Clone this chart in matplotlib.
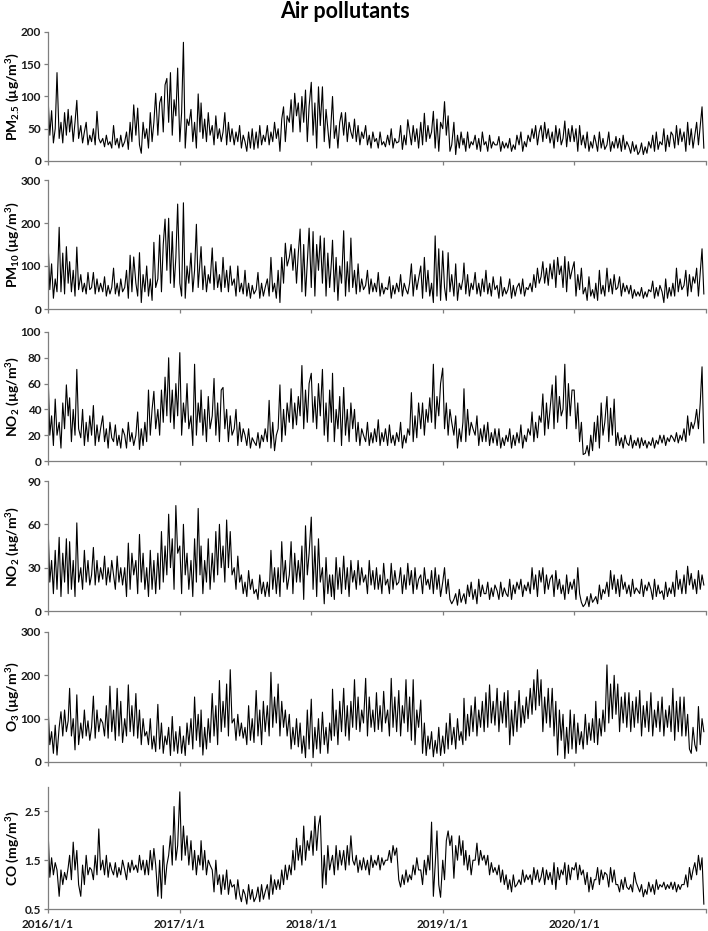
import numpy as np
import matplotlib
matplotlib.use("Agg")
import matplotlib.pyplot as plt

plt.rcParams['font.family'] = ['Lato', 'DejaVu Sans']
plt.rcParams['font.weight'] = 'bold'
plt.rcParams['mathtext.fontset'] = 'custom'
plt.rcParams['mathtext.rm'] = 'Lato:bold'
plt.rcParams['mathtext.it'] = 'Lato:bold'
plt.rcParams['mathtext.bf'] = 'Lato:bold'

# values, 6 per month (days 1, 6, 11, 16, 21, 26), 2016-2020
pm25 = [
    100, 40, 78, 28, 50, 137, 35, 60, 28, 75, 40, 80, 45, 70, 30, 60, 94, 35, 55, 28, 45, 60, 25, 40,
    30, 50, 25, 77, 35, 28, 35, 22, 40, 25, 30, 20, 55, 25, 35, 20, 40, 22, 30, 45, 18, 60, 30, 87,
    40, 82, 25, 12, 60, 35, 50, 20, 75, 30, 60, 105, 40, 90, 100, 45, 118, 128, 60, 137, 40, 95, 70, 144,
    30, 75, 184, 20, 65, 55, 80, 30, 60, 20, 104, 45, 90, 35, 65, 30, 75, 40, 55, 25, 70, 35, 50, 30,
    45, 75, 25, 60, 30, 50, 25, 45, 30, 55, 20, 40, 30, 15, 45, 20, 50, 18, 45, 20, 55, 25, 40, 30,
    55, 25, 45, 30, 60, 35, 50, 15, 65, 84, 30, 70, 60, 95, 45, 105, 70, 90, 45, 100, 60, 110, 30, 85,
    122, 40, 90, 20, 115, 55, 115, 30, 80, 50, 20, 70, 100, 35, 55, 20, 60, 75, 40, 75, 30, 60, 45, 35,
    65, 30, 55, 25, 45, 35, 55, 25, 40, 20, 45, 30, 35, 20, 45, 25, 30, 22, 40, 25, 50, 20, 35, 28,
    30, 55, 18, 40, 25, 64, 45, 25, 55, 30, 50, 20, 60, 25, 74, 30, 55, 35, 45, 77, 20, 65, 15, 60,
    50, 92, 40, 70, 15, 25, 60, 10, 40, 20, 45, 25, 35, 15, 45, 20, 30, 25, 40, 18, 35, 15, 45, 25,
    30, 15, 40, 20, 30, 25, 25, 38, 15, 30, 20, 28, 20, 35, 15, 25, 18, 40, 25, 45, 15, 30, 22, 40,
    30, 50, 35, 55, 25, 45, 55, 30, 60, 35, 50, 28, 45, 20, 55, 30, 50, 25, 35, 62, 22, 50, 30, 55,
    30, 50, 15, 55, 25, 40, 20, 45, 15, 30, 20, 40, 30, 15, 45, 20, 35, 18, 25, 45, 15, 30, 20, 38,
    20, 35, 15, 40, 18, 30, 22, 12, 30, 15, 25, 10, 15, 28, 10, 22, 12, 30, 20, 40, 15, 45, 18, 30,
    25, 50, 15, 40, 22, 45, 40, 20, 55, 25, 50, 30, 45, 15, 60, 25, 50, 20, 40, 60, 25, 55, 84, 20,
]
pm10 = [
    160, 45, 105, 25, 70, 40, 190, 40, 130, 35, 145, 60, 110, 40, 90, 30, 144, 45, 80, 40, 60, 35, 85, 45,
    50, 85, 35, 70, 40, 60, 40, 75, 30, 55, 35, 50, 95, 35, 60, 30, 70, 40, 50, 90, 25, 125, 40, 121,
    60, 30, 131, 15, 80, 40, 100, 30, 70, 20, 155, 50, 70, 172, 40, 150, 209, 90, 211, 60, 180, 50, 120, 244,
    60, 30, 247, 25, 100, 60, 130, 40, 90, 197, 50, 110, 145, 45, 100, 40, 80, 60, 142, 45, 110, 50, 80, 40,
    120, 50, 90, 40, 100, 55, 70, 30, 100, 40, 60, 35, 90, 30, 60, 25, 55, 35, 45, 85, 25, 60, 30, 50,
    70, 30, 120, 40, 60, 25, 90, 15, 120, 60, 153, 100, 120, 150, 90, 140, 60, 130, 186, 40, 150, 30, 110, 188,
    50, 180, 30, 150, 90, 170, 60, 165, 30, 130, 50, 110, 160, 40, 120, 20, 100, 60, 182, 30, 110, 40, 165, 50,
    90, 35, 105, 40, 70, 45, 55, 90, 35, 70, 40, 60, 40, 85, 30, 60, 35, 50, 45, 75, 25, 55, 35, 60,
    40, 80, 30, 60, 45, 35, 60, 105, 30, 80, 45, 70, 100, 25, 120, 40, 90, 30, 60, 15, 170, 30, 140, 20,
    135, 50, 20, 131, 40, 80, 30, 105, 20, 60, 45, 70, 107, 35, 80, 30, 60, 45, 85, 35, 60, 30, 70, 40,
    90, 35, 60, 30, 75, 45, 55, 25, 75, 30, 50, 35, 45, 70, 25, 55, 30, 50, 60, 35, 70, 30, 50, 45,
    60, 40, 80, 50, 95, 60, 75, 110, 60, 95, 55, 105, 70, 114, 50, 120, 80, 100, 50, 122, 40, 110, 70, 90,
    110, 30, 80, 45, 95, 35, 50, 20, 75, 30, 45, 25, 60, 20, 90, 35, 55, 30, 95, 40, 70, 35, 80, 45,
    50, 75, 30, 60, 40, 55, 35, 55, 25, 45, 30, 40, 30, 50, 25, 40, 28, 45, 40, 65, 25, 50, 30, 55,
    40, 15, 70, 25, 50, 30, 60, 30, 95, 40, 70, 45, 55, 90, 30, 80, 40, 75, 60, 95, 30, 85, 140, 35,
]
no2 = [
    70, 20, 35, 12, 48, 20, 30, 10, 45, 25, 59, 35, 49, 15, 40, 20, 71, 25, 18, 40, 12, 30, 15, 35,
    20, 43, 12, 28, 15, 25, 35, 15, 25, 10, 30, 18, 15, 28, 12, 20, 10, 25, 20, 10, 30, 15, 22, 12,
    20, 38, 9, 25, 12, 30, 15, 55, 20, 40, 54, 25, 40, 20, 55, 30, 65, 35, 80, 30, 55, 25, 60, 35,
    84, 20, 45, 30, 60, 25, 35, 12, 75, 20, 45, 30, 55, 20, 40, 15, 50, 25, 35, 64, 20, 45, 15, 55,
    57, 25, 40, 15, 35, 20, 25, 40, 12, 30, 15, 25, 20, 12, 25, 10, 18, 15, 12, 22, 10, 20, 15, 25,
    15, 47, 10, 30, 8, 20, 25, 59, 15, 40, 20, 45, 30, 56, 25, 45, 28, 50, 35, 74, 25, 55, 30, 60,
    68, 30, 50, 25, 60, 35, 71, 20, 45, 15, 55, 30, 68, 15, 40, 25, 50, 12, 57, 20, 40, 15, 45, 25,
    40, 15, 30, 12, 25, 20, 15, 30, 12, 22, 14, 25, 15, 32, 12, 22, 15, 25, 12, 28, 14, 20, 12, 22,
    15, 30, 10, 20, 14, 25, 20, 53, 15, 35, 18, 45, 25, 45, 20, 40, 30, 49, 30, 75, 25, 50, 35, 60,
    72, 25, 45, 20, 40, 30, 20, 35, 10, 25, 15, 30, 56, 15, 40, 20, 30, 25, 20, 35, 12, 25, 15, 28,
    15, 30, 12, 22, 14, 25, 12, 25, 10, 18, 12, 20, 15, 25, 10, 20, 12, 22, 14, 28, 10, 20, 15, 25,
    20, 38, 15, 30, 18, 35, 30, 52, 20, 45, 25, 40, 59, 25, 66, 30, 50, 35, 40, 75, 25, 60, 35, 55,
    55, 25, 45, 15, 30, 5, 6, 12, 4, 20, 8, 30, 15, 35, 10, 45, 20, 30, 50, 15, 41, 20, 48, 12,
    22, 12, 18, 10, 20, 14, 12, 20, 10, 16, 12, 18, 10, 18, 12, 16, 10, 15, 12, 18, 10, 16, 13, 20,
    14, 20, 12, 18, 15, 20, 18, 15, 22, 14, 20, 16, 25, 15, 35, 20, 30, 25, 30, 40, 25, 45, 73, 14,
]
no2_b = [
    60, 20, 35, 12, 42, 15, 51, 10, 40, 20, 50, 12, 48, 15, 35, 10, 61, 20, 30, 15, 42, 20, 35, 18,
    25, 44, 18, 35, 20, 30, 22, 38, 18, 30, 20, 35, 25, 15, 38, 20, 30, 18, 30, 10, 47, 15, 40, 25,
    35, 12, 53, 20, 40, 15, 30, 10, 42, 15, 35, 12, 40, 15, 55, 20, 45, 25, 67, 30, 50, 15, 73, 40,
    45, 12, 60, 25, 40, 15, 35, 10, 50, 20, 71, 25, 45, 12, 35, 20, 50, 15, 40, 20, 55, 25, 60, 30,
    45, 20, 63, 30, 55, 25, 30, 15, 38, 20, 25, 12, 20, 10, 28, 15, 22, 12, 15, 8, 25, 12, 20, 10,
    20, 10, 42, 15, 30, 12, 30, 10, 48, 20, 35, 15, 25, 48, 12, 40, 20, 35, 20, 45, 8, 59, 25, 40,
    65, 15, 45, 10, 50, 20, 30, 5, 37, 12, 25, 10, 25, 8, 37, 15, 30, 12, 38, 15, 30, 10, 35, 20,
    28, 15, 35, 18, 30, 20, 25, 12, 35, 18, 28, 15, 30, 15, 25, 12, 33, 18, 22, 12, 33, 15, 28, 18,
    20, 30, 12, 25, 15, 33, 18, 28, 12, 30, 15, 22, 25, 12, 30, 18, 22, 15, 28, 12, 30, 15, 25, 10,
    20, 30, 12, 22, 8, 5, 8, 12, 4, 15, 6, 10, 12, 5, 18, 10, 20, 8, 15, 5, 22, 10, 18, 12,
    12, 20, 8, 16, 10, 18, 14, 8, 20, 10, 16, 12, 10, 22, 8, 18, 12, 20, 15, 22, 10, 18, 14, 20,
    12, 30, 15, 25, 10, 28, 20, 30, 12, 25, 15, 22, 25, 10, 28, 15, 22, 12, 18, 8, 25, 12, 20, 15,
    22, 8, 30, 12, 6, 3, 5, 10, 3, 12, 6, 8, 10, 5, 18, 8, 15, 12, 20, 10, 28, 15, 25, 12,
    22, 10, 25, 15, 20, 12, 18, 10, 22, 12, 16, 14, 12, 22, 10, 18, 14, 20, 15, 8, 22, 10, 18, 12,
    14, 8, 20, 10, 16, 12, 20, 10, 28, 15, 22, 12, 25, 12, 31, 18, 26, 15, 22, 12, 28, 15, 25, 18,
]
o3 = [
    130, 40, 70, 20, 85, 16, 80, 116, 60, 120, 70, 95, 170, 60, 100, 28, 155, 40, 90, 55, 120, 60, 95, 50,
    80, 152, 55, 120, 70, 100, 90, 60, 130, 55, 175, 70, 120, 50, 170, 60, 140, 45, 100, 60, 178, 70, 130, 60,
    158, 55, 120, 40, 100, 60, 70, 40, 100, 30, 60, 24, 133, 30, 90, 20, 60, 40, 80, 15, 105, 25, 70, 20,
    82, 20, 60, 15, 90, 40, 100, 30, 150, 50, 110, 35, 120, 16, 80, 30, 100, 45, 158, 60, 130, 40, 188, 70,
    140, 80, 180, 60, 213, 90, 100, 50, 110, 60, 90, 55, 80, 40, 130, 50, 100, 45, 165, 60, 120, 40, 140, 70,
    130, 60, 207, 80, 150, 90, 180, 60, 140, 80, 120, 60, 110, 30, 80, 40, 100, 35, 90, 20, 60, 10, 120, 30,
    145, 10, 80, 30, 100, 20, 115, 40, 80, 20, 90, 50, 168, 60, 120, 40, 140, 70, 170, 60, 130, 50, 140, 80,
    190, 75, 150, 70, 120, 90, 193, 60, 150, 80, 120, 70, 160, 75, 130, 70, 163, 90, 120, 60, 193, 80, 150, 70,
    165, 60, 130, 90, 190, 70, 150, 50, 190, 40, 120, 80, 143, 20, 90, 15, 60, 30, 70, 12, 50, 20, 80, 15,
    60, 20, 90, 30, 112, 40, 80, 30, 100, 50, 70, 40, 147, 50, 110, 60, 130, 70, 150, 60, 120, 80, 140, 70,
    160, 80, 178, 90, 140, 85, 170, 70, 140, 90, 160, 80, 165, 40, 120, 60, 140, 70, 165, 80, 130, 90, 150, 100,
    170, 110, 190, 120, 213, 130, 190, 70, 150, 90, 170, 80, 170, 60, 140, 16, 120, 50, 110, 8, 80, 20, 120, 30,
    110, 20, 90, 40, 70, 30, 110, 40, 90, 50, 100, 45, 140, 40, 100, 60, 120, 70, 224, 90, 180, 100, 200, 110,
    180, 70, 150, 90, 160, 80, 160, 70, 140, 80, 150, 90, 165, 60, 130, 80, 140, 70, 160, 60, 120, 80, 140, 70,
    150, 60, 120, 80, 130, 70, 170, 50, 140, 70, 150, 60, 150, 60, 110, 30, 20, 80, 40, 25, 128, 40, 100, 70,
]
co = [
    2.15, 1.15, 1.55, 1.2, 1.45, 1.3, 0.76, 1.3, 1.0, 1.25, 1.1, 1.35, 1.6, 1.1, 1.87, 1.3, 1.7, 1.0,
    0.76, 1.4, 1.0, 1.6, 1.2, 1.35, 1.3, 1.1, 1.6, 1.2, 2.14, 1.3, 1.5, 1.2, 1.6, 1.15, 1.45, 1.3,
    1.2, 1.45, 1.15, 1.35, 1.2, 1.5, 1.3, 1.1, 1.45, 1.25, 1.5, 1.3, 1.4, 1.25, 1.6, 1.3, 1.5, 1.2,
    1.5, 1.2, 1.7, 1.3, 1.74, 1.4, 0.76, 1.5, 0.72, 1.8, 1.0, 1.4, 1.6, 2.0, 1.4, 2.6, 1.5, 1.8,
    2.9, 1.5, 2.2, 1.6, 2.0, 1.4, 1.9, 1.3, 1.7, 1.2, 1.6, 1.4, 1.9, 1.3, 1.7, 1.2, 1.5, 1.4,
    1.3, 0.85, 1.5, 1.0, 1.2, 0.8, 1.2, 0.9, 1.3, 0.8, 1.1, 0.95, 1.0, 0.7, 1.1, 0.8, 0.65, 0.9,
    0.8, 0.6, 1.0, 0.7, 0.9, 0.65, 0.75, 0.95, 0.65, 1.0, 0.7, 0.85, 1.0, 0.7, 1.2, 0.8, 1.1, 0.9,
    1.1, 0.9, 1.3, 1.0, 1.4, 1.1, 1.4, 1.2, 1.7, 1.3, 1.95, 1.5, 1.8, 1.4, 2.2, 1.5, 1.9, 1.7,
    2.1, 1.6, 2.4, 1.7, 2.2, 2.41, 0.93, 1.6, 1.0, 1.8, 1.3, 1.5, 1.6, 1.2, 1.8, 1.3, 1.7, 1.4,
    1.7, 1.3, 1.8, 1.4, 2.0, 1.5, 1.4, 1.6, 1.25, 1.5, 1.3, 1.55, 1.3, 1.5, 1.2, 1.6, 1.35, 1.5,
    1.4, 1.6, 1.3, 1.55, 1.4, 1.5, 1.5, 1.7, 1.45, 1.8, 1.6, 1.75, 1.1, 0.95, 1.2, 1.0, 1.3, 1.05,
    1.2, 1.1, 1.4, 1.2, 1.55, 1.3, 1.3, 1.0, 1.5, 1.2, 1.6, 1.3, 2.28, 0.76, 1.4, 2.1, 1.0, 0.74,
    1.5, 1.1, 1.9, 2.1, 1.8, 2.0, 1.13, 1.8, 1.5, 2.0, 1.6, 1.9, 1.4, 1.7, 1.3, 1.6, 1.2, 1.5,
    1.5, 1.85, 1.4, 1.7, 1.5, 1.6, 1.4, 1.6, 1.2, 1.45, 1.25, 1.35, 1.2, 1.4, 1.05, 1.3, 1.0, 1.2,
    0.9, 1.1, 0.85, 1.2, 0.95, 1.0, 1.1, 1.0, 1.3, 1.05, 1.2, 1.1, 1.2, 1.0, 1.35, 1.1, 1.3, 1.05,
    1.15, 1.35, 1.0, 1.3, 1.1, 1.25, 1.0, 1.45, 0.9, 1.35, 1.1, 1.3, 1.2, 1.45, 1.0, 1.4, 1.1, 1.35,
    1.3, 1.45, 1.1, 1.4, 1.2, 1.3, 1.0, 1.25, 0.85, 1.15, 0.9, 1.1, 1.1, 1.35, 1.0, 1.3, 1.1, 1.25,
    1.2, 0.95, 1.35, 1.05, 1.3, 1.0, 1.0, 0.85, 1.1, 0.9, 1.15, 0.95, 0.9, 1.0, 0.85, 1.25, 1.05, 0.95,
    0.85, 1.0, 0.75, 0.9, 0.8, 1.05, 0.85, 1.0, 0.8, 1.1, 0.9, 1.0, 0.95, 1.05, 0.9, 1.0, 0.92, 1.05,
    0.9, 1.05, 0.85, 1.0, 0.9, 1.0, 1.0, 1.2, 0.95, 1.35, 1.1, 1.3, 1.45, 1.2, 1.6, 1.3, 1.55, 0.6,
]

ylabels = [r'PM$_{2.5}$ (µg/m$^3$)', r'PM$_{10}$ (µg/m$^3$)', r'NO$_2$ (µg/m$^3$)',
           r'NO$_2$ (µg/m$^3$)', r'O$_3$ (µg/m$^3$)', 'CO (mg/m$^3$)']
ylims = [(0, 200), (0, 300), (0, 100), (0, 90), (0, 300), (0.5, 3.0)]
yticks = [[0, 50, 100, 150, 200], [0, 100, 200, 300], [0, 20, 40, 60, 80, 100],
          [0, 30, 60, 90], [0, 100, 200, 300], [0.5, 1.5, 2.5]]
years = [2016, 2017, 2018, 2019, 2020]

# sample dates: 6 per month
dates = []
for y in years:
    for m in range(1, 13):
        for d in (1, 6, 11, 16, 21, 26):
            dates.append(np.datetime64(f'{y}-{m:02d}-{d:02d}'))
dates = np.array(dates)

series = [pm25, pm10, no2, no2_b, o3, co]

fig = plt.figure(figsize=(7.08, 9.31), dpi=100)
# top / bottom of each panel in pixels
boxes = [(32, 161), (180, 309), (332, 461), (481, 611), (632, 762), (787, 909)]
W, H = 708, 931
left, right = 48 / W, 706 / W

for i, vals in enumerate(series):
    top, bot = boxes[i]
    ax = fig.add_axes([left, 1 - bot / H, right - left, (bot - top) / H])
    ax.plot(dates, vals, color='black', lw=0.8)
    ax.set_xlim(np.datetime64('2016-01-01'), np.datetime64('2021-01-01'))
    ax.set_ylim(*ylims[i])
    ax.set_yticks(yticks[i])
    if i == 5:
        ax.set_yticklabels(['0.5', '1.5', '2.5'])
    ax.spines['top'].set_visible(False)
    ax.spines['right'].set_visible(False)
    for s in ('left', 'bottom'):
        ax.spines[s].set_color('#7f7f7f')
        ax.spines[s].set_linewidth(0.9)
    ticks = [np.datetime64(f'{y}-01-01') for y in years + [2021]]
    ax.set_xticks(ticks)
    if i == 5:
        ax.set_xticklabels([f'{y}/1/1' for y in years] + [''])
    else:
        ax.set_xticklabels([])
    ax.tick_params(axis='both', direction='out', color='#7f7f7f', length=3, width=0.9,
                   labelsize=8.5, labelcolor='#1a1a1a', pad=2)
    ax.tick_params(axis='x', pad=4)
    ax.set_ylabel(ylabels[i], fontsize=10, fontweight='bold')
    ax.yaxis.set_label_coords(-0.04, 0.5)

fig.text(0.487, 0.988, 'Air pollutants', ha='center', va='center',
         fontsize=15.5, fontweight='bold')

fig.savefig('out.png', dpi=100)
